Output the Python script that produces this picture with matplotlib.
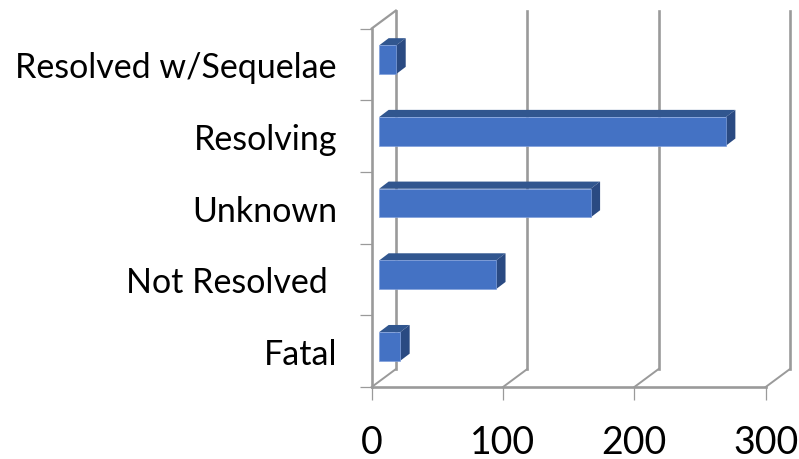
import numpy as np
import matplotlib
matplotlib.use('Agg')
import matplotlib.pyplot as plt
from matplotlib.patches import Polygon

# bottom to top
categories = ['Fatal', 'Not Resolved ', 'Unknown', 'Resolving', 'Resolved w/Sequelae']
values = [16, 89, 161, 264, 13]
x_ticks = [0, 100, 200, 300]

GRAY = '#9a9a9a'
FRONT = '#4472C4'
TOP = '#31568F'
SIDE = '#2A4A82'

# oblique offsets of the fake 3d, in data units
WALL_DX = 18.4
WALL_DY = 0.25
BAR_DX = 5.7
BAR_DY = 0.065
DEPTH_DX = 7.2
DEPTH_DY = 0.10
BAR_H = 0.40

plt.rcParams['font.family'] = ['Lato', 'DejaVu Sans']

fig = plt.figure(figsize=(7.99, 4.6), dpi=100)
ax = fig.add_axes([371.7 / 799, (460 - 388) / 460, 394 / 799, 358.5 / 460])
ax.set_xlim(0, 300)
ax.set_ylim(0, len(categories))

for s in ['top', 'right']:
    ax.spines[s].set_visible(False)
for s in ['left', 'bottom']:
    ax.spines[s].set_color(GRAY)
    ax.spines[s].set_linewidth(1.9)

# back wall lines and the floor/side diagonals
n = len(categories)
for v in x_ticks:
    ax.plot([v + WALL_DX, v + WALL_DX], [WALL_DY, n + WALL_DY], color=GRAY, lw=1.9,
            clip_on=False, zorder=1)
    ax.plot([v, v + WALL_DX], [0, WALL_DY], color=GRAY, lw=1.4, clip_on=False, zorder=1)
ax.plot([0, WALL_DX], [n, n + WALL_DY], color=GRAY, lw=1.6, clip_on=False, zorder=1)

# bars
y_pos = np.arange(n) + 0.5 + BAR_DY
left = BAR_DX
for y, v in zip(y_pos, values):
    low = y - BAR_H / 2
    high = y + BAR_H / 2
    right = left + v
    ax.add_patch(Polygon([(left, high), (right, high), (right + DEPTH_DX, high + DEPTH_DY),
                          (left + DEPTH_DX, high + DEPTH_DY)], closed=True, facecolor=TOP,
                         edgecolor='none', clip_on=False, zorder=3))
    ax.add_patch(Polygon([(right, low), (right + DEPTH_DX, low + DEPTH_DY),
                          (right + DEPTH_DX, high + DEPTH_DY), (right, high)], closed=True,
                         facecolor=SIDE, edgecolor='none', clip_on=False, zorder=3))
ax.barh(y_pos, values, height=BAR_H, left=left, color=FRONT, edgecolor='#7f9fdc', linewidth=0.5,
        zorder=4)

ax.set_xticks(x_ticks)
ax.set_xticklabels([str(v) for v in x_ticks], fontsize=27, color='black')
ax.tick_params(axis='x', length=9, width=0.9, color=GRAY, pad=18)

ax.set_yticks(np.arange(n + 1))
ax.set_yticklabels([])
ax.set_yticks(np.arange(n) + 0.5, minor=True)
ax.set_yticklabels(categories, minor=True, fontsize=24.5, color='black')
ax.tick_params(axis='y', which='major', length=9, width=0.9, color=GRAY)
ax.tick_params(axis='y', which='minor', length=0, pad=25)

fig.savefig('out.png', dpi=100)
